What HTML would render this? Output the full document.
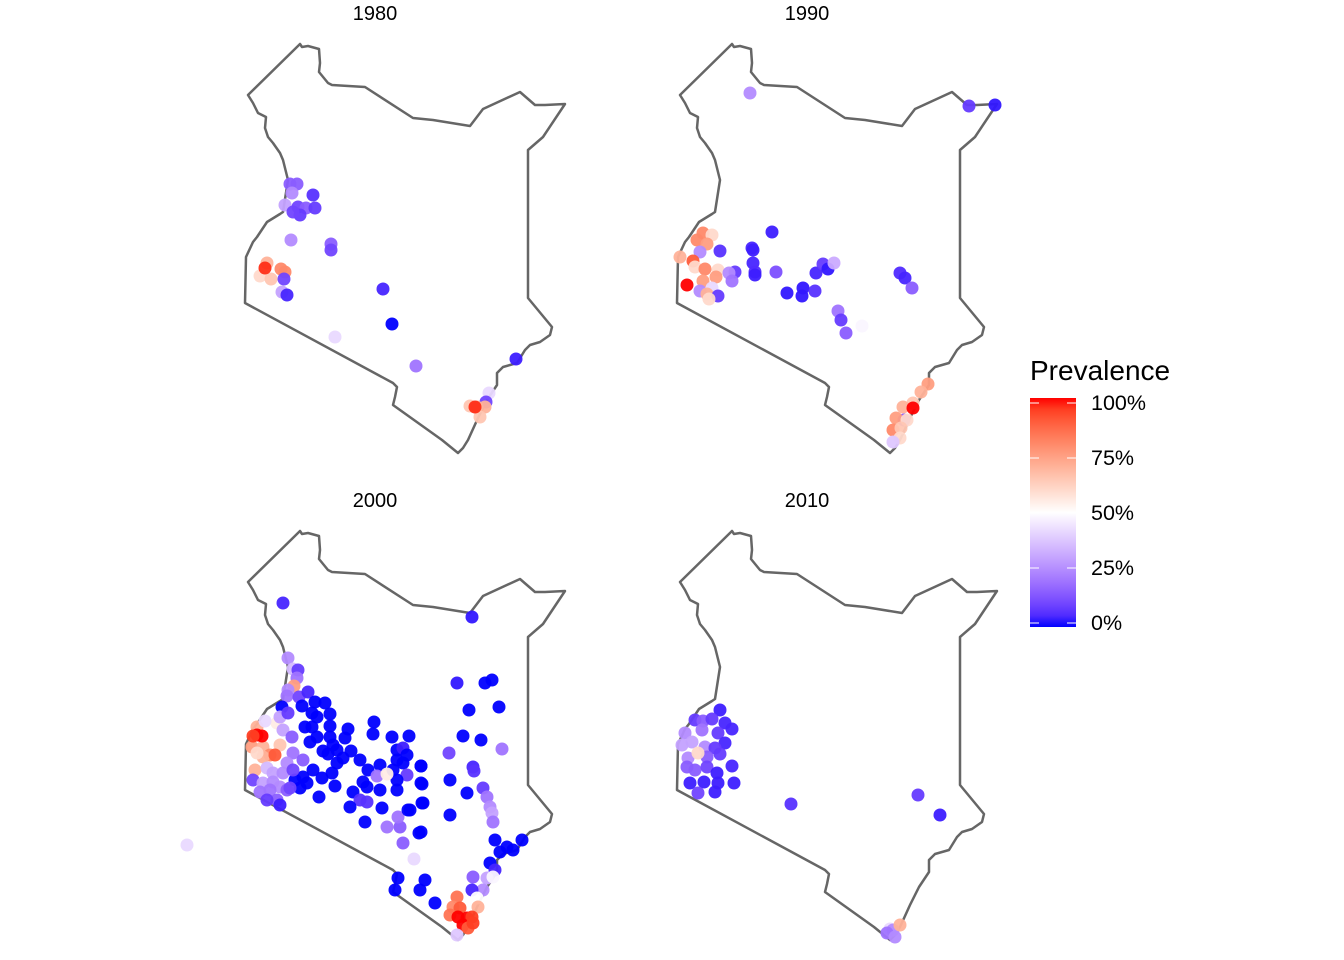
<!DOCTYPE html>
<html><head><meta charset="utf-8"><style>
body{margin:0;background:#fff;}
svg{display:block;font-family:"Liberation Sans",Arial,sans-serif;}
</style></head><body>
<svg id="chart" width="1344" height="960" viewBox="0 0 1344 960">
<defs><linearGradient id="lg" x1="0" y1="1" x2="0" y2="0"></linearGradient></defs>
<g id="panels"></g>
<g>
<text x="1030" y="380" font-size="28" fill="#000">Prevalence</text>
<rect x="1030" y="398" width="46" height="229" fill="url(#lg)"/>
<g id="legticks"></g>
</g>
</svg>
<script>
const years=["1980","1990","2000","2010"];
const panelOffsets=[[0,0],[432,0],[0,487],[432,487]];
const outline=[[300,44],[302,47],[308,46],[319,49],[320,63],[319,72],[328,83],[332,85],[365,87],[413,118],[433,120],[470,126],[483,109],[520,92],[535,105],[545,105],[565,104],[543,137],[528,150],[528,298],[552,327],[550,335],[540,342],[530,345],[525,350],[517,363],[503,367],[497,373],[497,385],[487,400],[478,418],[468,440],[463,448],[458,453],[442,440],[400,410],[393,405],[395,397],[397,387],[393,383],[245,303],[246,257],[253,242],[257,237],[267,222],[280,214],[283,212],[288,180],[283,160],[280,153],[273,143],[268,137],[265,128],[266,117],[258,113],[253,103],[248,95]];
const pts1980=[[290,184,.15],[297,184,.15],[292,193,.25],[313,195,.06],[285,205,.3],[298,207,.1],[306,208,.15],[315,208,.08],[300,215,.08],[293,212,.1],[291,240,.25],[331,244,.15],[331,250,.1],[267,263,.7],[260,276,.6],[271,279,.65],[281,269,.8],[285,272,.8],[284,279,.1],[282,292,.3],[287,295,.04],[265,268,.97],[383,289,.04],[392,324,0],[335,337,.42],[416,366,.2],[516,359,.03],[489,393,.42],[486,402,.1],[470,406,.65],[477,407,.7],[485,407,.7],[480,417,.65],[475,407,.97]];
const pts1990=[[318,93,.25],[537,106,.08],[563,105,.02],[271,233,.8],[280,235,.6],[265,240,.8],[275,244,.75],[288,251,.06],[268,252,.25],[248,257,.7],[261,261,.9],[263,267,.6],[273,269,.8],[286,270,.6],[303,272,.08],[297,273,.25],[284,277,.75],[271,281,.75],[300,281,.2],[255,285,1],[280,288,.42],[268,291,.25],[275,294,.7],[286,296,.08],[277,299,.6],[340,232,.03],[320,248,.04],[321,250,.03],[321,263,.04],[323,272,.05],[323,275,.03],[344,272,.12],[355,293,.02],[371,288,.02],[370,296,.02],[383,291,.06],[384,273,.04],[391,264,.08],[396,269,.02],[402,263,.32],[468,273,.05],[473,278,.04],[480,288,.15],[406,311,.2],[409,320,.08],[414,333,.15],[430,326,.48],[496,384,.75],[489,392,.7],[472,420,.15],[481,403,.65],[471,407,.7],[464,418,.75],[475,420,.6],[461,430,.8],[469,428,.65],[468,438,.6],[461,442,.38],[481,408,1]];
const pts2000=[[283,116,.04],[472,130,.02],[187,358,.42],[288,171,.25],[293,182,.35],[298,183,.08],[297,191,.2],[294,199,.75],[288,203,.25],[287,209,.2],[299,210,.1],[308,205,.04],
[315,215,0],[325,216,0],[302,219,0],[282,220,0],[312,226,0],[330,227,0],[317,230,0],[305,240,0],[312,240,0],[330,239,0],[348,242,0],[374,235,0],[373,247,0],[317,250,0],[310,255,0],[330,250,0],[345,251,0],[333,258,0],[392,250,0],[409,249,0],[323,264,0],[337,263,0],[351,264,0],[328,267,0],[343,271,0],[360,273,0],[397,263,0],[403,261,.03],[407,268,0],[397,273,0],[403,276,0],[421,279,0],[337,276,0],[332,286,0],[313,283,0],[303,290,0],[322,291,0],[368,283,0],[380,278,0],[393,283,0],[377,289,.2],[407,288,.08],[421,296,0],[397,293,0],[363,295,0],[367,300,0],[353,305,0],[360,313,.06],[367,315,.06],[380,303,0],[397,303,0],[335,299,0],[350,320,0],[382,321,0],[423,316,0],[319,310,0],[300,301,0],[307,296,0],[295,293,0],[365,335,0],[410,323,0],[421,345,0],[387,287,.55],
[257,240,.7],[277,236,.55],[265,234,.42],[280,230,.3],[288,226,.08],[283,243,.3],[292,250,.15],[280,258,.65],[252,260,.75],[263,260,.7],[270,268,.8],[263,270,.7],[257,266,.6],[293,266,.2],[303,273,.15],[255,283,.7],[267,281,.35],[273,286,.3],[283,286,.25],[287,276,.25],[293,283,.1],[253,293,.1],[263,296,.3],[273,295,.25],[280,300,.25],[260,305,.2],[270,303,.2],[277,313,.15],[267,313,.08],[287,303,.15],[280,318,.03],[290,301,.1],[275,268,.9],[257,248,1],[262,249,1],[253,249,.95],
[457,196,.02],[485,196,0],[492,193,0],[469,223,0],[499,220,0],[463,249,0],[481,253,0],[502,262,.2],[449,266,.1],[473,280,.04],[474,284,.06],[450,293,0],[467,306,0],[483,301,.08],[487,310,.2],[490,320,.25],[492,326,.3],[493,335,.2],[450,328,0],[495,353,0],[507,360,0],[513,363,0],[522,353,0],[500,365,0],[490,376,0],[495,383,.04],[398,391,0],[395,403,0],[420,403,0],[425,393,0],[435,416,0],[400,340,.15],[398,330,.2],[387,340,.2],[403,356,.15],[414,372,.42],[408,323,0],[419,346,0],[422,316,0],[422,297,0],[421,279,0],
[473,390,.15],[487,391,.3],[493,390,.48],[483,403,.25],[472,403,.04],[477,411,.5],[478,420,.7],[457,410,.85],[453,420,.8],[460,421,.9],[450,428,.85],[458,430,1],[467,431,1],[472,430,.95],[463,438,1],[468,441,.9],[473,436,.95],[457,448,.38]];
const pts2010=[[288,223,.03],[263,233,.08],[271,234,.15],[280,232,.08],[293,236,.04],[300,242,.04],[253,246,.25],[270,243,.2],[286,246,.08],[250,258,.3],[260,255,.3],[273,260,.25],[293,256,.04],[283,261,.08],[288,267,.08],[256,271,.25],[275,270,.15],[300,279,.04],[255,280,.15],[263,283,.15],[275,280,.1],[285,286,.03],[258,296,.03],[272,295,.03],[286,296,.03],[302,296,.03],[283,305,.03],[266,306,.1],[266,266,.6],[359,317,.06],[486,308,.08],[508,328,.03],[458,442,.42],[461,443,.25],[455,446,.2],[463,450,.25],[468,438,.7]];
const legendTicks=[0,.25,.5,.75,1];
const legendLabels=["0%","25%","50%","75%","100%"];

const allPts=[pts1980,pts1990,pts2000,pts2010];
const NS="http://www.w3.org/2000/svg";
function xs(p,u){return panelOffsets[p][0]+u;}
function ys(p,v){return panelOffsets[p][1]+v;}
function toLin(c){c/=255;return c<=0.04045?c/12.92:Math.pow((c+0.055)/1.055,2.4);}
function fromLin(c){c=c<=0.0031308?12.92*c:1.055*Math.pow(c,1/2.4)-0.055;return Math.max(0,Math.min(255,Math.round(c*255)));}
function f(t){return t>0.008856?Math.cbrt(t):7.787*t+16/116;}
function fi(t){return t>0.206893?t*t*t:(t-16/116)/7.787;}
function rgb2lab(r,g,b){r=toLin(r);g=toLin(g);b=toLin(b);
const X=(0.4124*r+0.3576*g+0.1805*b)/0.95047,Y=0.2126*r+0.7152*g+0.0722*b,Z=(0.0193*r+0.1192*g+0.9505*b)/1.08883;
return [116*f(Y)-16,500*(f(X)-f(Y)),200*(f(Y)-f(Z))];}
function lab2rgb(L,a,bb){const fy=(L+16)/116,fx=fy+a/500,fz=fy-bb/200;
const X=fi(fx)*0.95047,Y=fi(fy),Z=fi(fz)*1.08883;
const r=3.2406*X-1.5372*Y-0.4986*Z,g=-0.9689*X+1.8758*Y+0.0415*Z,b=0.0557*X-0.2040*Y+1.0570*Z;
return "rgb("+fromLin(r)+","+fromLin(g)+","+fromLin(b)+")";}
const LB=rgb2lab(0,0,255),LW=rgb2lab(255,255,255),LR=rgb2lab(255,0,0);
function color(v){let a,b,t;if(v<0.5){a=LB;b=LW;t=v/0.5;}else{a=LW;b=LR;t=(v-0.5)/0.5;}
return lab2rgb(a[0]+(b[0]-a[0])*t,a[1]+(b[1]-a[1])*t,a[2]+(b[2]-a[2])*t);}

const panels=document.getElementById('panels');
years.forEach((yr,p)=>{
  const g=document.createElementNS(NS,'g');
  
  
  const t=document.createElementNS(NS,'text');
  t.setAttribute('x',xs(p,375));t.setAttribute('y',ys(p,20));
  t.setAttribute('text-anchor','middle');t.setAttribute('font-size','20');
  t.textContent=yr;
  
  
  g.appendChild(t);
  const path=document.createElementNS(NS,'polygon');
  path.setAttribute('points',outline.map(q=>xs(p,q[0])+","+ys(p,q[1])).join(" "));
  path.setAttribute('fill','none');path.setAttribute('stroke','#666');path.setAttribute('stroke-width','2.5');path.setAttribute('stroke-linejoin','round');
  
  
  g.appendChild(path);
  allPts[p].forEach(d=>{
    const c=document.createElementNS(NS,'circle');
    c.setAttribute('cx',xs(p,d[0]));c.setAttribute('cy',ys(p,d[1]));c.setAttribute('r','6.5');
    c.setAttribute('fill',color(d[2]));c.setAttribute('fill-opacity','0.95');
    
    
    g.appendChild(c);
  });
  panels.appendChild(g);
});
const lg=document.getElementById('lg');
for(let i=0;i<=20;i++){const s=document.createElementNS(NS,'stop');s.setAttribute('offset',(i/20*100)+'%');s.setAttribute('stop-color',color(i/20));lg.appendChild(s);}
const lt=document.getElementById('legticks');
function ly(v){return 623-v*220;}
legendTicks.forEach((v,i)=>{
  [[1030,1039],[1067,1076]].forEach(xx=>{
    const l=document.createElementNS(NS,'line');
    l.setAttribute('x1',xx[0]);l.setAttribute('x2',xx[1]);l.setAttribute('y1',ly(v));l.setAttribute('y2',ly(v));
    l.setAttribute('stroke','#fff');l.setAttribute('stroke-width','1');
    
    
    lt.appendChild(l);
  });
  const t=document.createElementNS(NS,'text');
  t.setAttribute('x',1091);t.setAttribute('y',ly(v)+7);t.setAttribute('font-size','21.5');
  t.textContent=legendLabels[i];
  
  
  lt.appendChild(t);
});
</script>
</body></html>
